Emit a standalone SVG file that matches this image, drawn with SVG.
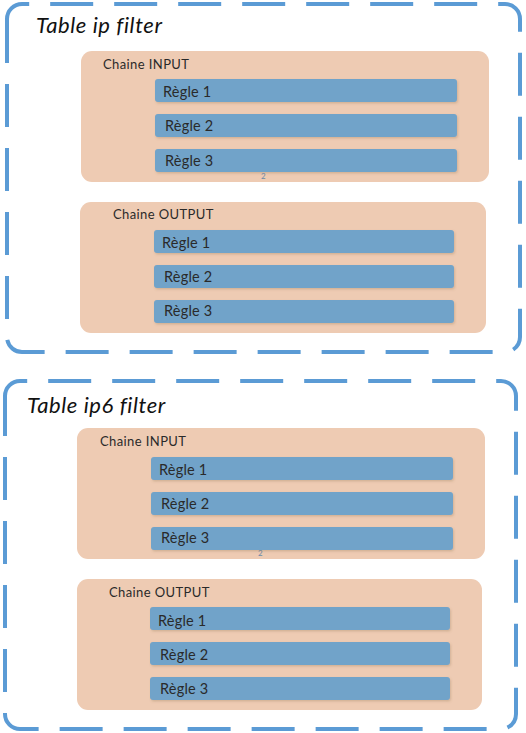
<svg xmlns="http://www.w3.org/2000/svg" width="526" height="733" viewBox="0 0 526 733">
<defs>
<filter id="sh" x="-5%" y="-20%" width="110%" height="150%">
<feDropShadow dx="1" dy="1.5" stdDeviation="1" flood-color="#7a6040" flood-opacity="0.25"/>
</filter>
<style>
.table{fill:#ffffff;stroke:#5b9bd5;stroke-width:4;stroke-dasharray:43 21;stroke-dashoffset:4.4}
.chain{fill:#eecbb3}
.rule{fill:#71a3c9;filter:url(#sh)}
.title{font-family:Lato,"Open Sans",sans-serif;font-style:italic;font-size:22px;fill:#111;letter-spacing:0.6px}
.clab{font-family:Lato,"Open Sans",sans-serif;font-size:13px;fill:#2a2a2a;letter-spacing:0.4px}
.rlab{font-family:Lato,"Open Sans",sans-serif;font-size:14.5px;fill:#2a2a2a;letter-spacing:0.2px}
.pg{font-family:Lato,sans-serif;font-size:8px;fill:#6a8aa8}
</style>
</defs>
<g id="table-ip">
<path class="table" d="M7,27 V19 A15,15 0 0 1 22,4 H505 A15,15 0 0 1 520,19 V337 A15,15 0 0 1 505,352 H22 A15,15 0 0 1 7,337 Z"/>
<text class="title" x="36" y="33">Table ip filter</text>
</g>
<g id="ip-input">
<rect class="chain" x="81" y="51" width="408" height="131" rx="11"/>
<text class="clab" x="103" y="69">Chaine INPUT</text>
<text class="pg" x="261" y="179">2</text>
</g>
<g id="ip-input-r1"><rect class="rule" x="155" y="79" width="302" height="23" rx="3"/><text class="rlab" x="163" y="97">Règle 1</text></g>
<g id="ip-input-r2"><rect class="rule" x="155" y="114" width="302" height="23" rx="3"/><text class="rlab" x="165" y="131">Règle 2</text></g>
<g id="ip-input-r3"><rect class="rule" x="155" y="149" width="302" height="23" rx="3"/><text class="rlab" x="165" y="166">Règle 3</text></g>
<g id="ip-output">
<rect class="chain" x="80" y="202" width="406" height="131" rx="11"/>
<text class="clab" x="113" y="219">Chaine OUTPUT</text>
</g>
<g id="ip-output-r1"><rect class="rule" x="154" y="230" width="300" height="23" rx="3"/><text class="rlab" x="162" y="248">Règle 1</text></g>
<g id="ip-output-r2"><rect class="rule" x="154" y="265" width="300" height="23" rx="3"/><text class="rlab" x="164" y="282">Règle 2</text></g>
<g id="ip-output-r3"><rect class="rule" x="154" y="300" width="300" height="23" rx="3"/><text class="rlab" x="164" y="316">Règle 3</text></g>

<g id="table-ip6">
<path class="table" d="M5,404 V396 A15,15 0 0 1 20,381 H501 A15,15 0 0 1 516,396 V714 A15,15 0 0 1 501,729 H20 A15,15 0 0 1 5,714 Z"/>
<text class="title" x="27" y="413">Table ip6 filter</text>
</g>
<g id="ip6-input">
<rect class="chain" x="77" y="428" width="408" height="131" rx="11"/>
<text class="clab" x="100" y="446">Chaine INPUT</text>
<text class="pg" x="258" y="556">2</text>
</g>
<g id="ip6-input-r1"><rect class="rule" x="151" y="457" width="302" height="23" rx="3"/><text class="rlab" x="159" y="475">Règle 1</text></g>
<g id="ip6-input-r2"><rect class="rule" x="151" y="492" width="302" height="23" rx="3"/><text class="rlab" x="161" y="509">Règle 2</text></g>
<g id="ip6-input-r3"><rect class="rule" x="151" y="527" width="302" height="23" rx="3"/><text class="rlab" x="161" y="543">Règle 3</text></g>
<g id="ip6-output">
<rect class="chain" x="77" y="579" width="405" height="131" rx="11"/>
<text class="clab" x="109" y="597">Chaine OUTPUT</text>
</g>
<g id="ip6-output-r1"><rect class="rule" x="150" y="607" width="300" height="23" rx="3"/><text class="rlab" x="158" y="626">Règle 1</text></g>
<g id="ip6-output-r2"><rect class="rule" x="150" y="642" width="300" height="23" rx="3"/><text class="rlab" x="160" y="660">Règle 2</text></g>
<g id="ip6-output-r3"><rect class="rule" x="150" y="677" width="300" height="23" rx="3"/><text class="rlab" x="160" y="694">Règle 3</text></g>
<g id="connectors"/>
</svg>
